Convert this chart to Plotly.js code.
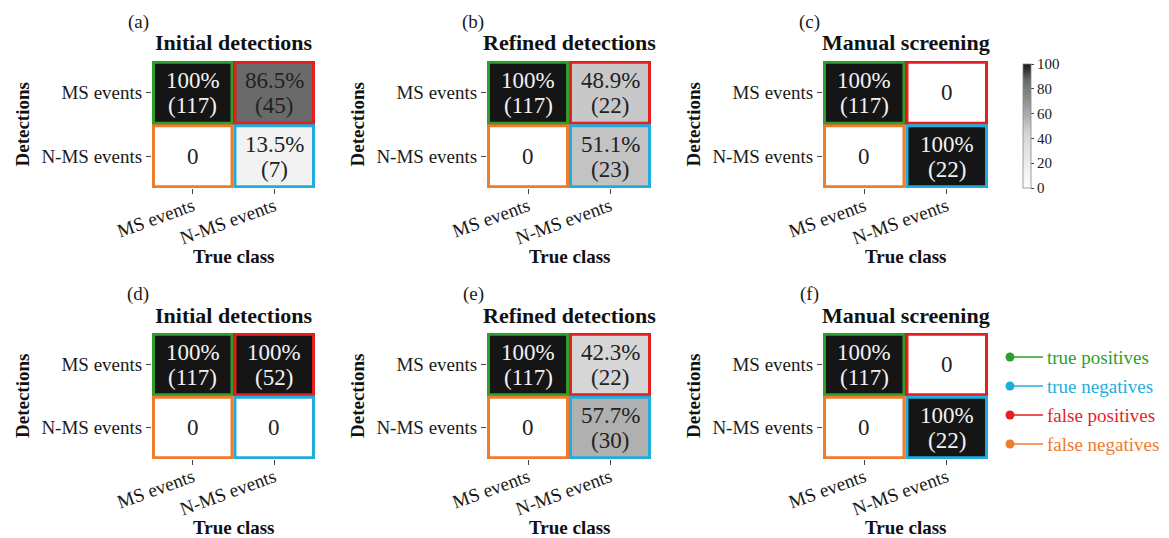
<!DOCTYPE html>
<html>
<head>
<meta charset="utf-8">
<script src="https://cdn.plot.ly/plotly-3.0.1.min.js"></script>
<style>html,body{margin:0;padding:0;background:#fff;}#chart{width:1169px;height:538px;}</style>
</head>
<body>
<div id="chart"></div>
<script>
// ---- data ----
const classes = ["MS events", "N-MS events"];           // x: true class, y: detections
const panelLetters = ["(a)", "(b)", "(c)", "(d)", "(e)", "(f)"];
const panelTitles = ["Initial detections", "Refined detections", "Manual screening",
                     "Initial detections", "Refined detections", "Manual screening"];
// rows: detection (MS events, N-MS events); cols: true class (MS events, N-MS events)
const pctA = [[100, 86.5], [0, 13.5]];  const cntA = [[117, 45], [0, 7]];
const pctB = [[100, 48.9], [0, 51.1]];  const cntB = [[117, 22], [0, 23]];
const pctC = [[100, 0], [0, 100]];      const cntC = [[117, 0], [0, 22]];
const pctD = [[100, 100], [0, 0]];      const cntD = [[117, 52], [0, 0]];
const pctE = [[100, 42.3], [0, 57.7]];  const cntE = [[117, 22], [0, 30]];
const pctF = [[100, 0], [0, 100]];      const cntF = [[117, 0], [0, 22]];
const colorbarTicks = [0, 20, 40, 60, 80, 100];
const legendLabels = ["true positives", "true negatives", "false positives", "false negatives"];

// ---- styling ----
const W = 1169, H = 538;
const FONT = "Liberation Serif";
const outcomeColors = {tp: "#2ca02c", tn: "#1fadde", fp: "#e41f1f", fn: "#f07b2c"};
const legendColors = [outcomeColors.tp, outcomeColors.tn, outcomeColors.fp, outcomeColors.fn];
const outcomeGrid = [["tp", "fp"], ["fn", "tn"]];
const greyScale = [[0, "#ffffff"], [0.15, "#f0f0f0"], [0.42, "#d7d7d7"], [0.5, "#c6c6c6"],
                   [0.58, "#afafaf"], [0.87, "#696969"], [1, "#151515"]];

const pcts = [pctA, pctB, pctC, pctD, pctE, pctF];
const cnts = [cntA, cntB, cntC, cntD, cntE, cntF];

// panel geometry in pixels
const colX = [[152, 315], [487, 651], [823, 988]];
const rowY = [[61, 188], [333, 459]];
const px = x => x / W;
const py = y => 1 - y / H;

const data = [];
const layout = {
  width: W, height: H, autosize: false,
  margin: {l: 0, r: 0, t: 0, b: 0},
  paper_bgcolor: "#fff", plot_bgcolor: "#fff",
  font: {family: FONT, color: "#1a1a1a"},
  showlegend: false, hovermode: false,
  shapes: [], annotations: []
};

for (let p = 0; p < 6; p++) {
  const r = Math.floor(p / 3), c = p % 3;
  const sfx = p === 0 ? "" : String(p + 1);
  const xa = "x" + sfx, ya = "y" + sfx;
  const [x0, x1] = colX[c], [y0, y1] = rowY[r];
  layout["xaxis" + sfx] = {
    domain: [px(x0), px(x1)], anchor: ya, type: "category",
    range: [-0.5, 1.5], showgrid: false, zeroline: false, showline: false,
    ticks: "outside", ticklen: 5, tickwidth: 1, tickcolor: "#444",
    ticklabelstandoff: -6,
    tickangle: -20, tickfont: {size: 19, family: FONT, color: "#1a1a1a"}, fixedrange: true
  };
  layout["yaxis" + sfx] = {
    domain: [py(y1), py(y0)], anchor: xa, type: "category",
    range: [1.5, -0.5], showgrid: false, zeroline: false, showline: false,
    ticks: "outside", ticklen: 5, tickwidth: 1, tickcolor: "#444",
    tickfont: {size: 19, family: FONT, color: "#1a1a1a"}, fixedrange: true
  };
  const z = pcts[p];
  data.push({
    type: "heatmap", x: classes, y: classes, z: z,
    xaxis: xa, yaxis: ya, zmin: 0, zmax: 100,
    colorscale: greyScale, showscale: p === 2,
    hoverinfo: "skip",
    colorbar: {
      thickness: 8, len: 124, lenmode: "pixels",
      x: px(1023), xanchor: "left", y: py(64), yanchor: "top",
      xpad: 0, ypad: 0, outlinewidth: 0.8, outlinecolor: "#888",
      tickvals: colorbarTicks, ticks: "outside", ticklen: 3, tickcolor: "#444",
      tickfont: {size: 15, family: FONT, color: "#1a1a1a"}
    }
  });
  const inset = 0.018;
  const cornerX = [], cornerY = [], cornerC = [];
  for (let i = 0; i < 2; i++) {
    for (let j = 0; j < 2; j++) {
      const v = z[i][j], n = cnts[p][i][j];
      const col = v >= 90 ? "#f2f2f2" : "#222";
      if (n === 0) {
        layout.annotations.push({xref: xa, yref: ya, x: j, y: i, text: "0", showarrow: false,
          font: {size: 23, family: FONT, color: col}});
      } else {
        layout.annotations.push({xref: xa, yref: ya, x: j, y: i, text: v + "%", showarrow: false,
          yshift: 12, font: {size: 23, family: FONT, color: col}});
        layout.annotations.push({xref: xa, yref: ya, x: j, y: i, text: "(" + n + ")", showarrow: false,
          yshift: -13, font: {size: 23, family: FONT, color: col}});
      }
      const oc = outcomeColors[outcomeGrid[i][j]];
      layout.shapes.push({type: "rect", xref: xa, yref: ya, layer: "above",
        x0: j - 0.5 + inset, x1: j + 0.5 - inset, y0: i - 0.5 + inset, y1: i + 0.5 - inset,
        line: {color: oc, width: 3}});
      cornerX.push(j === 0 ? -0.5 : 1.5);
      cornerY.push(i === 0 ? -0.5 : 1.5);
      cornerC.push(oc);
    }
  }
  data.push({type: "scatter", mode: "markers", x: cornerX, y: cornerY, xaxis: xa, yaxis: ya,
    cliponaxis: false, hoverinfo: "skip",
    marker: {size: 10, color: cornerC}});
  const cx = (x0 + x1) / 2;
  layout.annotations.push({xref: "paper", yref: "paper", x: px(x0 - 14), y: py(y0 - 39),
    text: panelLetters[p], showarrow: false, xanchor: "center", yanchor: "middle",
    font: {size: 19, family: FONT, color: "#1a1a1a"}});
  layout.annotations.push({xref: "paper", yref: "paper", x: px(cx), y: py(y0 - 18),
    text: "<b>" + panelTitles[p] + "</b>", showarrow: false, xanchor: "center", yanchor: "middle",
    font: {size: 22, family: FONT, color: "#111"}});
  layout.annotations.push({xref: "paper", yref: "paper", x: px(cx), y: py(y1 + 68),
    text: "<b>True class</b>", showarrow: false, xanchor: "center", yanchor: "middle",
    font: {size: 19, family: FONT, color: "#111"}});
  layout.annotations.push({xref: "paper", yref: "paper", x: px(x0 - 130), y: py((y0 + y1) / 2),
    text: "<b>Detections</b>", showarrow: false, xanchor: "center", yanchor: "middle", textangle: -90,
    font: {size: 19, family: FONT, color: "#111"}});
}

// legend (custom: dot at left end of a short line)
const legY0 = 357, legStep = 29;
legendLabels.forEach((lab, k) => {
  const yy = legY0 + k * legStep;
  layout.shapes.push({type: "line", xref: "paper", yref: "paper",
    x0: px(1010), x1: px(1043), y0: py(yy), y1: py(yy), line: {color: legendColors[k], width: 1.5}});
  layout.shapes.push({type: "circle", xref: "paper", yref: "paper",
    x0: px(1005.5), x1: px(1014.5), y0: py(yy + 4.5), y1: py(yy - 4.5),
    fillcolor: legendColors[k], line: {color: legendColors[k], width: 0}});
  layout.annotations.push({xref: "paper", yref: "paper", x: px(1045), y: py(yy),
    text: lab, showarrow: false, xanchor: "left", yanchor: "middle",
    font: {size: 19, family: FONT, color: legendColors[k]}});
});

Plotly.newPlot("chart", data, layout, {staticPlot: true, displayModeBar: false});
</script>
</body>
</html>
